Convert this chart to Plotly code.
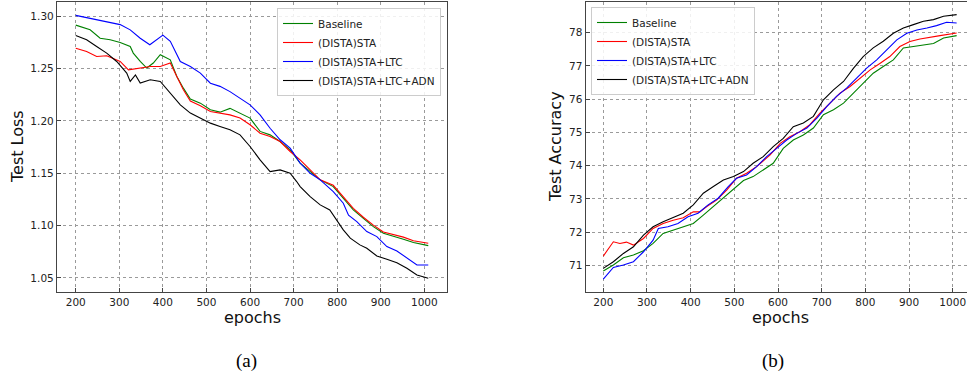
import plotly.graph_objects as go

W, H = 967, 375

# ---------------- data: Test Loss (left) ----------------
loss_base_ep = [200, 233, 256, 279, 302, 325, 332, 348, 363, 378, 394, 417, 432, 447, 463, 486, 509, 531, 554, 577,
                600, 623, 646, 669, 692, 715, 738, 761, 791, 814, 837, 860, 883, 906, 929, 952, 975, 1009]
loss_base = [1.2915, 1.2870, 1.2790, 1.2775, 1.2750, 1.2711, 1.2648, 1.2568, 1.2505, 1.2553, 1.2632, 1.2584, 1.2425,
             1.2313, 1.2210, 1.2170, 1.2106, 1.2084, 1.2120, 1.2075, 1.2027, 1.1900, 1.1867, 1.1803, 1.1724, 1.1597,
             1.1516, 1.1437, 1.1373, 1.1260, 1.1150, 1.1070, 1.0990, 1.0927, 1.0902, 1.0870, 1.0838, 1.0809]

loss_sta_ep = [200, 225, 248, 271, 290, 302, 321, 348, 371, 394, 417, 432, 447, 463, 486, 509, 531, 554, 577, 600,
               623, 646, 669, 692, 715, 738, 761, 791, 814, 837, 860, 883, 906, 929, 952, 975, 1009]
loss_sta = [1.2695, 1.2664, 1.2616, 1.2622, 1.2590, 1.2568, 1.2488, 1.2505, 1.2520, 1.2520, 1.2553, 1.2425, 1.2297,
            1.2190, 1.2145, 1.2090, 1.2075, 1.2058, 1.2027, 1.1963, 1.1883, 1.1851, 1.1803, 1.1708, 1.1628, 1.1532,
            1.1437, 1.1385, 1.1270, 1.1165, 1.1080, 1.1005, 1.0940, 1.0915, 1.0890, 1.0855, 1.0832]

loss_ltc_ep = [200, 256, 302, 325, 348, 370, 400, 417, 440, 463, 486, 509, 531, 554, 577, 600, 623, 646, 669, 692,
               715, 738, 761, 791, 814, 826, 845, 868, 891, 914, 937, 960, 983, 1009]
loss_ltc = [1.3008, 1.2960, 1.2920, 1.2870, 1.2790, 1.2728, 1.2820, 1.2760, 1.2568, 1.2520, 1.2457, 1.2360, 1.2330,
            1.2280, 1.2218, 1.2154, 1.2058, 1.1930, 1.1820, 1.1740, 1.1597, 1.1500, 1.1437, 1.1325, 1.1214, 1.1100,
            1.1038, 1.0943, 1.0895, 1.0800, 1.0758, 1.0688, 1.0624, 1.0624]

loss_adn_ep = [200, 225, 248, 271, 294, 317, 325, 337, 348, 371, 394, 417, 440, 463, 486, 509, 531, 554, 577, 600,
               623, 646, 669, 692, 707, 715, 738, 761, 783, 799, 814, 830, 852, 868, 891, 914, 937, 960, 983, 1009]
loss_adn = [1.2816, 1.2775, 1.2711, 1.2648, 1.2568, 1.2457, 1.2377, 1.2440, 1.2361, 1.2393, 1.2377, 1.2266, 1.2154,
            1.2075, 1.2027, 1.1979, 1.1947, 1.1915, 1.1867, 1.1756, 1.1628, 1.1516, 1.1532, 1.1500, 1.1421, 1.1373,
            1.1277, 1.1198, 1.1150, 1.1055, 1.0959, 1.0880, 1.0816, 1.0784, 1.0710, 1.0679, 1.0646, 1.0593, 1.0529,
            1.0497]

# ---------------- data: Test Accuracy (right) ----------------
acc_base_ep = [200, 223, 246, 269, 292, 314, 337, 360, 383, 406, 429, 452, 475, 498, 521, 543, 566, 589, 612, 635,
               658, 681, 704, 727, 750, 773, 795, 818, 841, 864, 887, 910, 933, 956, 979, 1009]
acc_base = [70.83, 71.01, 71.23, 71.31, 71.44, 71.66, 71.96, 72.06, 72.16, 72.26, 72.51, 72.77, 73.02, 73.30, 73.55,
            73.67, 73.87, 74.07, 74.52, 74.77, 74.92, 75.13, 75.53, 75.68, 75.88, 76.18, 76.48, 76.78, 76.98, 77.18,
            77.54, 77.58, 77.61, 77.67, 77.84, 77.91]

acc_sta_ep = [200, 223, 238, 253, 269, 292, 314, 337, 360, 383, 406, 421, 437, 460, 483, 505, 528, 551, 582, 605,
              627, 650, 673, 696, 719, 742, 765, 788, 811, 834, 856, 879, 902, 925, 948, 971, 1009]
acc_sta = [71.28, 71.71, 71.66, 71.70, 71.61, 71.81, 72.11, 72.26, 72.36, 72.43, 72.61, 72.61, 72.77, 72.97, 73.27,
           73.62, 73.77, 73.97, 74.32, 74.67, 74.87, 75.02, 75.23, 75.58, 75.88, 76.18, 76.38, 76.63, 76.88, 77.08,
           77.28, 77.58, 77.73, 77.81, 77.87, 77.91, 77.99]

acc_ltc_ep = [200, 223, 246, 269, 292, 314, 326, 348, 371, 394, 417, 440, 463, 486, 505, 528, 551, 574, 597, 620,
              643, 666, 689, 712, 734, 757, 780, 803, 826, 849, 872, 895, 918, 941, 963, 986, 1009]
acc_ltc = [70.59, 70.94, 71.01, 71.11, 71.41, 71.76, 72.11, 72.16, 72.26, 72.46, 72.57, 72.82, 73.02, 73.37, 73.62,
           73.72, 73.97, 74.27, 74.52, 74.77, 74.97, 75.13, 75.43, 75.78, 76.08, 76.33, 76.63, 76.93, 77.18, 77.48,
           77.78, 77.98, 78.08, 78.14, 78.21, 78.31, 78.29]

acc_adn_ep = [200, 223, 246, 269, 292, 314, 337, 360, 383, 406, 429, 452, 475, 498, 521, 543, 566, 589, 612, 635,
              658, 681, 704, 727, 750, 773, 795, 818, 841, 864, 887, 910, 933, 956, 979, 1009]
acc_adn = [70.91, 71.11, 71.36, 71.56, 71.91, 72.16, 72.31, 72.45, 72.57, 72.82, 73.17, 73.37, 73.57, 73.67, 73.82,
           74.07, 74.27, 74.57, 74.82, 75.17, 75.28, 75.48, 75.98, 76.28, 76.53, 76.93, 77.28, 77.54, 77.74, 77.98,
           78.14, 78.24, 78.34, 78.39, 78.49, 78.54]

series_names = ["Baseline", "(DISTA)STA", "(DISTA)STA+LTC", "(DISTA)STA+LTC+ADN"]
series_colors = ["#008000", "#ff0000", "#0000ff", "#000000"]

x_ticks = [200, 300, 400, 500, 600, 700, 800, 900, 1000]
loss_ticks = [1.05, 1.10, 1.15, 1.20, 1.25, 1.30]
acc_ticks = [71, 72, 73, 74, 75, 76, 77, 78]

loss_data = [(loss_base_ep, loss_base), (loss_sta_ep, loss_sta), (loss_ltc_ep, loss_ltc), (loss_adn_ep, loss_adn)]
acc_data = [(acc_base_ep, acc_base), (acc_sta_ep, acc_sta), (acc_ltc_ep, acc_ltc), (acc_adn_ep, acc_adn)]

fig = go.Figure()
for (ep, v), name, col in zip(loss_data, series_names, series_colors):
    fig.add_trace(go.Scatter(x=ep, y=v, mode="lines", name=name, line=dict(color=col, width=1.1),
                             xaxis="x", yaxis="y", legend="legend"))
for (ep, v), name, col in zip(acc_data, series_names, series_colors):
    fig.add_trace(go.Scatter(x=ep, y=v, mode="lines", name=name, line=dict(color=col, width=1.1),
                             xaxis="x2", yaxis="y2", legend="legend2"))

tick_font = dict(family="DejaVu Sans", size=10.5, color="#222222")
ydom = [1 - 292 / H, 1 - 2 / H]
common = dict(showgrid=True, gridcolor="#9a9a9a", griddash="dot", gridwidth=1,
              showline=True, linecolor="#444444", linewidth=1.3,
              ticks="inside", ticklen=4, tickcolor="#444444", tickfont=tick_font,
              zeroline=False, automargin=False)

legend_font = dict(family="DejaVu Sans", size=10.5, color="#222222")
fig.update_layout(
    width=W, height=H, margin=dict(l=0, r=0, t=0, b=0),
    paper_bgcolor="white", plot_bgcolor="white",
    xaxis=dict(domain=[57 / W, 447 / W], range=[157, 1052], tickvals=x_ticks, anchor="y", mirror=True, **common),
    yaxis=dict(domain=ydom, range=[1.0366, 1.3136], tickvals=loss_ticks, tickformat=".2f", anchor="x",
               mirror=True, **common),
    xaxis2=dict(domain=[585.7 / W, 1.0], range=[159.7, 1032.7], tickvals=x_ticks, anchor="y2", mirror=True, **common),
    yaxis2=dict(domain=ydom, range=[70.2, 78.92], tickvals=acc_ticks, anchor="x2", mirror=False, **common),
    legend=dict(x=441 / W, xanchor="right", y=1 - 8 / H, yanchor="top",
                bgcolor="rgba(255,255,255,0.85)", bordercolor="#cccccc", borderwidth=1,
                font=legend_font, tracegroupgap=0),
    legend2=dict(x=591 / W, xanchor="left", y=1 - 7 / H, yanchor="top",
                 bgcolor="rgba(255,255,255,0.85)", bordercolor="#cccccc", borderwidth=1,
                 font=legend_font, tracegroupgap=0),
    showlegend=True,
)

title_font = dict(family="DejaVu Sans", size=16, color="#111111")
ann = [
    dict(text="Test Loss", x=17 / W, y=1 - 147 / H, textangle=-90, font=title_font),
    dict(text="Test Accuracy", x=555 / W, y=1 - 147 / H, textangle=-90, font=title_font),
    dict(text="epochs", x=252 / W, y=1 - 317 / H, font=title_font),
    dict(text="epochs", x=780 / W, y=1 - 317 / H, font=title_font),
    dict(text="(a)", x=246 / W, y=1 - 361 / H, font=dict(family="Liberation Serif", size=19, color="#000000")),
    dict(text="(b)", x=773 / W, y=1 - 361 / H, font=dict(family="Liberation Serif", size=19, color="#000000")),
]
for a in ann:
    fig.add_annotation(xref="paper", yref="paper", showarrow=False, xanchor="center", yanchor="middle", **a)

fig.write_html("out.html", config={"displayModeBar": False},
               post_script="document.body.style.margin='0';document.body.style.overflow='hidden';")
